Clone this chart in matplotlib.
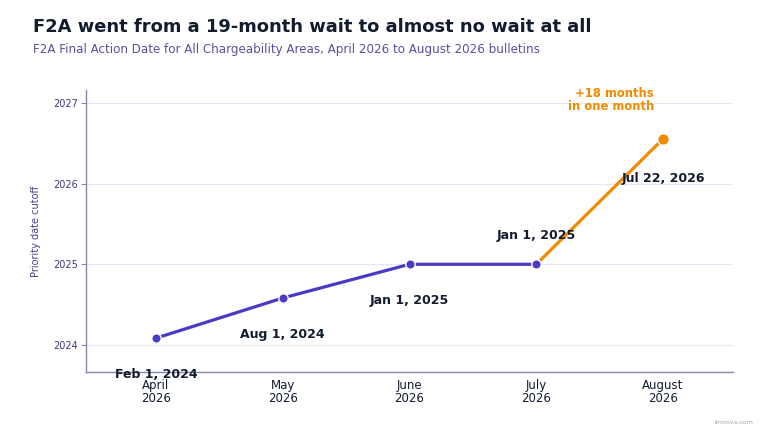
import matplotlib
matplotlib.use("Agg")
import matplotlib.pyplot as plt
from datetime import date

# Data
bulletins = ["April\n2026", "May\n2026", "June\n2026", "July\n2026", "August\n2026"]
cutoff_dates = [date(2024, 2, 1), date(2024, 8, 1), date(2025, 1, 1), date(2025, 1, 1), date(2026, 7, 22)]
point_labels = ["Feb 1, 2024", "Aug 1, 2024", "Jan 1, 2025", "Jan 1, 2025", "Jul 22, 2026"]
y_ticks = [2024, 2025, 2026, 2027]


def to_year(d):
    start = date(d.year, 1, 1)
    end = date(d.year + 1, 1, 1)
    return d.year + (d - start).days / (end - start).days


yvals = [to_year(d) for d in cutoff_dates]
xs = list(range(len(bulletins)))

BLUE = "#4a3bc4"
ORANGE = "#f28a00"
DARK = "#111c2e"
SPINE = "#8a86b0"

fig = plt.figure(figsize=(7.6, 4.28), dpi=100)
ax = fig.add_axes([86 / 760, 1 - 372 / 428, (733 - 86) / 760, (372 - 90) / 428])

ax.plot(xs[:4], yvals[:4], color=BLUE, lw=2.3, zorder=3, solid_capstyle="round")
ax.plot(xs[3:], yvals[3:], color=ORANGE, lw=2.3, zorder=3, solid_capstyle="round")
ax.scatter(xs[:4], yvals[:4], s=46, color=BLUE, edgecolor="white", linewidth=1.0, zorder=4)
ax.scatter(xs[4:], yvals[4:], s=70, color=ORANGE, edgecolor="white", linewidth=1.0, zorder=4)

offsets = [-36, -36, -36, 29, -40]
for x, y, lab, off in zip(xs, yvals, point_labels, offsets):
    ax.annotate(lab, (x, y), xytext=(0, off), textcoords="offset pixels",
                ha="center", va="center", fontsize=9, fontweight="bold", color=DARK, zorder=5,
                annotation_clip=False)

ax.annotate("+18 months\nin one month", (xs[4], yvals[4]), xytext=(-9, 39), textcoords="offset pixels",
            ha="right", va="center", fontsize=8.4, fontweight="bold", color=ORANGE, linespacing=0.95,
            annotation_clip=False)

ax.set_xlim(-0.552, 4.552)
ax.set_ylim(2023.665, 2027.16)
ax.set_xticks(xs)
ax.set_xticklabels(bulletins, fontsize=8.5, color=DARK, linespacing=1.0)
ax.set_yticks(y_ticks)
ax.set_yticklabels([str(t) for t in y_ticks], fontsize=7, color="#3f3780")
ax.tick_params(axis="x", length=0, pad=5)
ax.tick_params(axis="y", length=3.5, width=0.8, color=SPINE, pad=2)
ax.set_ylabel("Priority date cutoff", fontsize=7, color="#4a3f8f", labelpad=9)
ax.grid(axis="y", color="#e6e6f5", lw=0.8)
ax.set_axisbelow(True)
for s in ["top", "right"]:
    ax.spines[s].set_visible(False)
for s in ["left", "bottom"]:
    ax.spines[s].set_color(SPINE)
    ax.spines[s].set_linewidth(1.0)

fig.text(33 / 760, 1 - 27 / 428, "F2A went from a 19-month wait to almost no wait at all",
         fontsize=12.85, fontweight="bold", color=DARK, va="center", ha="left")
fig.text(33 / 760, 1 - 50 / 428, "F2A Final Action Date for All Chargeability Areas, April 2026 to August 2026 bulletins",
         fontsize=8.55, color="#5a4fa0", va="center", ha="left")
fig.text(753 / 760, 1 - 422 / 428, "immiva.com", fontsize=4.5, color="#a0a0a8", ha="right", va="center")

fig.savefig("out.png", dpi=100)
